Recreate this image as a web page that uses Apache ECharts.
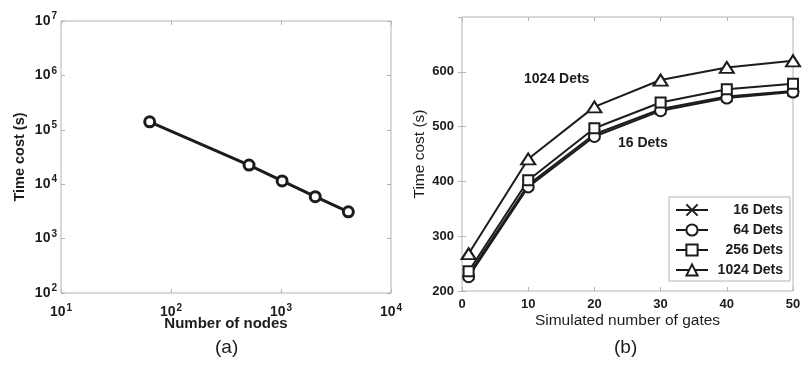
<!DOCTYPE html>
<html>
<head>
<meta charset="utf-8">
<script src="https://cdn.jsdelivr.net/npm/echarts@6/dist/echarts.min.js"></script>
<style>
  html, body { margin: 0; padding: 0; background: #fff; }
  #chart { width: 804px; height: 373px; }
</style>
</head>
<body>
<div id="chart"></div>
<script>
// (a) time cost vs number of nodes (log-log)
const nodes = [64, 512, 1024, 2048, 4096];
const nodeTime = [140000, 22500, 11500, 5900, 3100];

// (b) time cost vs simulated number of gates
const gates = [1, 10, 20, 30, 40, 50];
const dets16 = [230, 394, 486, 532, 555, 565];
const dets64 = [226, 390, 482, 529, 552, 563];
const dets256 = [236, 402, 497, 544, 568, 578];
const dets1024 = [268, 441, 536, 585, 608, 620];
const detNames = ["16 Dets", "64 Dets", "256 Dets", "1024 Dets"];

const FONT = "Liberation Sans, Arial, Helvetica, sans-serif";
const INK = "#1c1c1c";
const FRAME = "#b4b4b4";

const chart = echarts.init(document.getElementById("chart"));

const pow10 = (v) => "10{sup|" + Math.round(Math.log10(v)) + "}";
const powRich = {
  sup: { fontSize: 10, fontWeight: "bold", color: INK, fontFamily: FONT, padding: [0, 0, 9, 1] }
};

const tickStyle = { show: true, inside: true, length: 4, lineStyle: { color: FRAME } };

function logAxis(grid, min, max, extra) {
  return Object.assign({
    type: "log",
    logBase: 10,
    gridIndex: grid,
    min: min,
    max: max,
    interval: 1,
    axisLine: { show: false },
    axisTick: tickStyle,
    splitLine: { show: false },
    axisLabel: { show: false }
  }, extra || {});
}

const pairA = nodes.map((n, i) => [n, nodeTime[i]]);
const pair = (arr) => gates.map((g, i) => [g, arr[i]]);

const xMark = "path://M0,0L10,10M10,0L0,10";
const triMark = "path://M0,11L7,0L14,11Z";

function detSeries(name, arr, symbol, size) {
  return {
    name: name,
    type: "line",
    xAxisIndex: 2,
    yAxisIndex: 2,
    data: pair(arr),
    symbol: symbol,
    symbolSize: size,
    showAllSymbol: true,
    lineStyle: { color: INK, width: 2 },
    itemStyle: { color: "#fff", borderColor: INK, borderWidth: 2 },
    emphasis: { disabled: true }
  };
}

chart.setOption({
  animation: false,
  backgroundColor: "#fff",
  textStyle: { fontFamily: FONT },
  grid: [
    { left: 61, top: 21, width: 330, height: 272, show: true, borderColor: FRAME, borderWidth: 1 },
    { left: 462, top: 17, width: 331, height: 274, show: true, borderColor: FRAME, borderWidth: 1 }
  ],
  xAxis: [
    logAxis(0, 10, 10000, {
      name: "Number of nodes",
      nameLocation: "middle",
      nameGap: 23,
      nameMoveOverlap: false,
      nameTextStyle: { color: INK, fontSize: 15, fontWeight: "bold", fontFamily: FONT },
      axisLabel: {
        formatter: pow10, rich: powRich, color: INK, fontSize: 14,
        fontWeight: "bold", fontFamily: FONT, margin: 10
      }
    }),
    logAxis(0, 10, 10000, { position: "top" }),
    {
      type: "value",
      gridIndex: 1,
      min: 0,
      max: 50,
      interval: 10,
      name: "Simulated number of gates",
      nameLocation: "middle",
      nameGap: 22,
      nameMoveOverlap: false,
      nameTextStyle: { color: INK, fontSize: 15.5, fontFamily: FONT },
      axisLine: { show: false },
      axisTick: tickStyle,
      splitLine: { show: false },
      axisLabel: { color: INK, fontSize: 13, fontWeight: "bold", fontFamily: FONT, margin: 7 }
    },
    {
      type: "value", gridIndex: 1, position: "top", min: 0, max: 50, interval: 10,
      axisLine: { show: false }, axisTick: tickStyle, splitLine: { show: false },
      axisLabel: { show: false }
    }
  ],
  yAxis: [
    logAxis(0, 100, 10000000, {
      name: "Time cost (s)",
      nameLocation: "middle",
      nameGap: 34,
      nameMoveOverlap: false,
      nameTextStyle: { color: INK, fontSize: 14.5, fontWeight: "bold", fontFamily: FONT },
      axisLabel: {
        formatter: pow10, rich: powRich, color: INK, fontSize: 14,
        fontWeight: "bold", fontFamily: FONT, margin: 4
      }
    }),
    logAxis(0, 100, 10000000, { position: "right" }),
    {
      type: "value",
      gridIndex: 1,
      min: 200,
      max: 700,
      interval: 100,
      name: "Time cost (s)",
      nameLocation: "middle",
      nameGap: 34,
      nameMoveOverlap: false,
      nameTextStyle: { color: INK, fontSize: 15.5, fontFamily: FONT },
      axisLine: { show: false },
      axisTick: tickStyle,
      splitLine: { show: false },
      axisLabel: { color: INK, fontSize: 13, fontWeight: "bold", fontFamily: FONT, margin: 8, showMaxLabel: false }
    },
    {
      type: "value", gridIndex: 1, position: "right", min: 200, max: 700, interval: 100,
      axisLine: { show: false }, axisTick: tickStyle, splitLine: { show: false },
      axisLabel: { show: false }
    }
  ],
  legend: {
    data: detNames,
    orient: "vertical",
    left: 669,
    top: 197,
    padding: [6, 7, 4, 6],
    itemGap: 6,
    itemWidth: 32,
    itemHeight: 14,
    backgroundColor: "#fff",
    borderColor: FRAME,
    borderWidth: 1,
    selectedMode: false,
    formatter: (name) => "{t|" + name + "}",
    textStyle: {
      color: INK, fontSize: 14, fontWeight: "bold", fontFamily: FONT,
      rich: { t: { width: 70, align: "right", color: INK, fontSize: 14, fontWeight: "bold", fontFamily: FONT } }
    }
  },
  series: [
    {
      type: "line",
      xAxisIndex: 0,
      yAxisIndex: 0,
      data: pairA,
      symbol: "circle",
      symbolSize: 10,
      lineStyle: { color: INK, width: 3 },
      itemStyle: { color: "#fff", borderColor: INK, borderWidth: 3 },
      emphasis: { disabled: true }
    },
    detSeries(detNames[0], dets16, xMark, 11),
    detSeries(detNames[1], dets64, "circle", 11),
    detSeries(detNames[2], dets256, "rect", 10),
    detSeries(detNames[3], dets1024, triMark, [14, 11])
  ],
  graphic: [
    { type: "text", left: 524, top: 72, style: { text: "1024 Dets", fill: INK, font: "bold 14px " + FONT } },
    { type: "text", left: 618, top: 136, style: { text: "16 Dets", fill: INK, font: "bold 14px " + FONT } },
    { type: "text", left: 215, top: 338, style: { text: "(a)", fill: INK, font: "19px " + FONT } },
    { type: "text", left: 614, top: 338, style: { text: "(b)", fill: INK, font: "19px " + FONT } }
  ]
});
</script>
</body>
</html>
